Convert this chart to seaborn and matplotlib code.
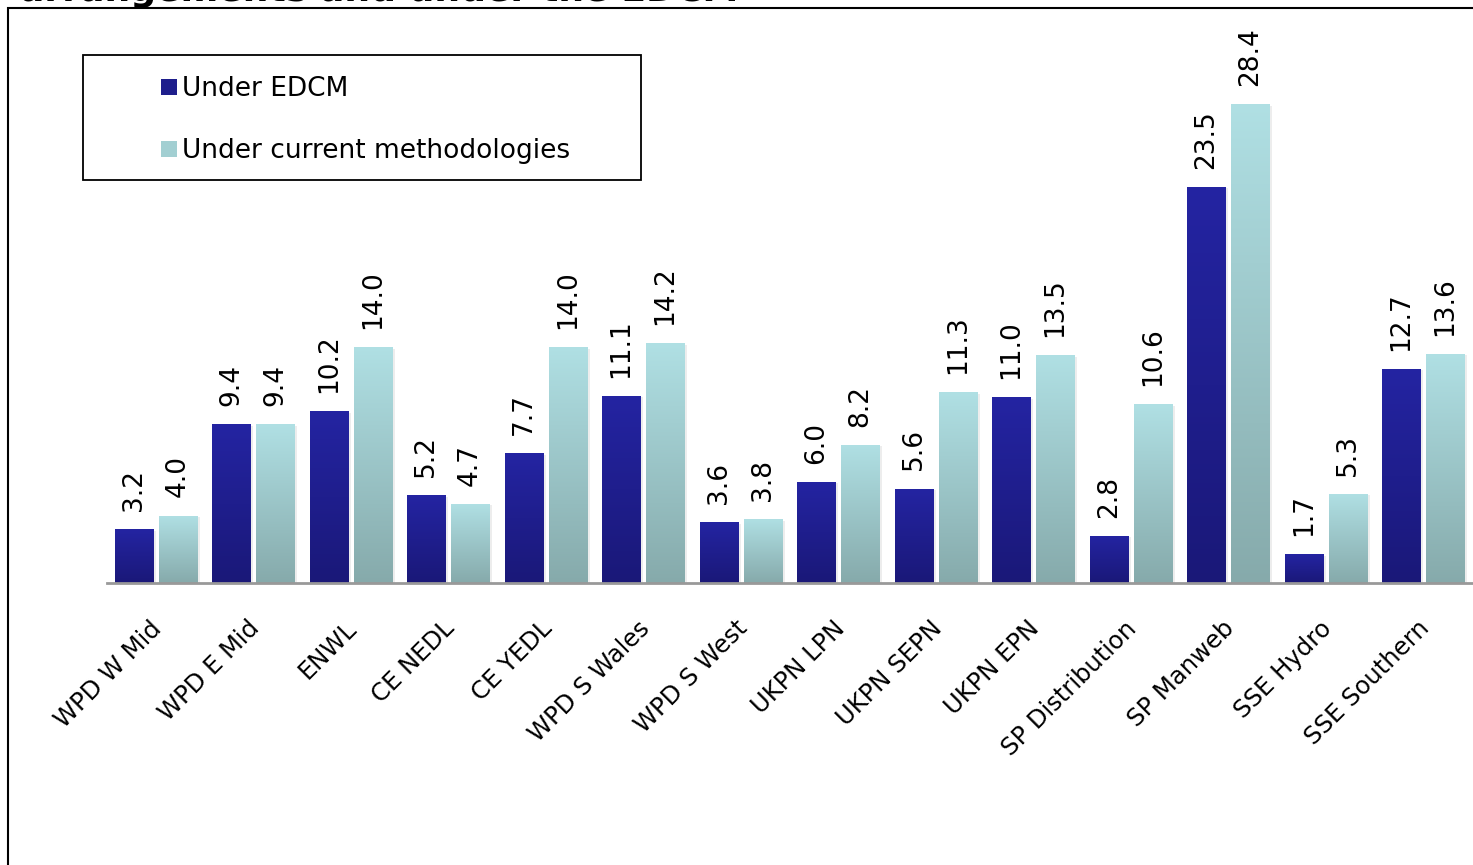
import numpy as np
import pandas as pd
import matplotlib
matplotlib.use("Agg")
import matplotlib.pyplot as plt
import matplotlib.transforms as mtransforms
from matplotlib.patches import Rectangle, Patch
from matplotlib.colors import LinearSegmentedColormap
import seaborn as sns

categories = ["WPD W Mid", "WPD E Mid", "ENWL", "CE NEDL", "CE YEDL", "WPD S Wales",
              "WPD S West", "UKPN LPN", "UKPN SEPN", "UKPN EPN", "SP Distribution",
              "SP Manweb", "SSE Hydro", "SSE Southern"]
edcm = [3.2, 9.4, 10.2, 5.2, 7.7, 11.1, 3.6, 6.0, 5.6, 11.0, 2.8, 23.5, 1.7, 12.7]
current = [4.0, 9.4, 14.0, 4.7, 14.0, 14.2, 3.8, 8.2, 11.3, 13.5, 10.6, 28.4, 5.3, 13.6]
series_names = ["Under EDCM", "Under current methodologies"]
title_text = "arrangements and under the EDCM"

df = pd.DataFrame({
    "DNO": categories * 2,
    "value": edcm + current,
    "series": [series_names[0]] * len(categories) + [series_names[1]] * len(categories),
})

sns.set_theme(style="white")
plt.rcParams["font.family"] = ["DejaVu Sans"]
plt.rcParams["text.color"] = "black"
plt.rcParams["xtick.color"] = "black"

W, H = 1473, 865
fig = plt.figure(figsize=(W / 100, H / 100), dpi=100)
ax = fig.add_axes([107 / W, (H - 583) / H, 1365 / W, 506 / H])

grad = {
    series_names[0]: ("#1a1878", "#2424a2"),
    series_names[1]: ("#86aaab", "#b0e0e4"),
}
sns.barplot(data=df, x="DNO", y="value", hue="series", order=categories,
            hue_order=series_names, width=0.9, gap=0.13, legend=False, ax=ax,
            palette={series_names[0]: "#1e1e8c", series_names[1]: "#9cc6c8"},
            linewidth=0, saturation=1)

bars = list(ax.patches)
n = len(categories)
for i, p in enumerate(bars):
    s = series_names[0] if i < n else series_names[1]
    c0, c1 = grad[s]
    cmap = LinearSegmentedColormap.from_list("g", [c0, c1])
    x0, y0 = p.get_x(), p.get_y()
    w, h = p.get_width(), p.get_height()
    if h <= 0:
        continue
    sh = Rectangle((x0 + 0.02, y0 - 0.25), w + 0.01, h + 0.15, facecolor="#000000",
                   alpha=0.07, linewidth=0, zorder=1.5)
    ax.add_patch(sh)
    g = np.linspace(0, 1, 256).reshape(-1, 1)
    im = ax.imshow(g, cmap=cmap, aspect="auto", origin="lower",
                   extent=[x0, x0 + w, y0, y0 + h], zorder=2.5)
    im.set_clip_path(p)
    p.set_facecolor("none")
    p.set_zorder(2.4)

ax.set_xlim(-0.5, len(categories) - 0.5)
ax.set_ylim(0, 30)

for i, p in enumerate(bars):
    v = edcm[i] if i < n else current[i - n]
    ax.annotate(f"{v:.1f}", (p.get_x() + p.get_width() / 2, p.get_height()),
                xytext=(0, 13), textcoords="offset points", rotation=90,
                ha="center", va="bottom", fontsize=19, color="black")

for sp in ["top", "right", "left"]:
    ax.spines[sp].set_visible(False)
ax.spines["bottom"].set_color("#999999")
ax.spines["bottom"].set_linewidth(2)
ax.spines["bottom"].set_zorder(3)
ax.set_yticks([])
ax.set_xlabel("")
ax.set_ylabel("")
ax.set_xticks(range(n))
ax.set_xticklabels(categories, rotation=45, ha="right", va="top",
                   rotation_mode="anchor", fontsize=17.5, color="black")
ax.tick_params(axis="x", length=0, pad=24)
offset = mtransforms.ScaledTranslation(-6 / 100, 0, fig.dpi_scale_trans)
for lab in ax.get_xticklabels():
    lab.set_transform(lab.get_transform() + offset)

handles = [Patch(facecolor="#1e1e8c", edgecolor="none"),
           Patch(facecolor="#a2cfd2", edgecolor="none")]
leg = fig.legend(handles, series_names, loc="upper left",
                 bbox_to_anchor=(148 / W, 1 - 63 / H), frameon=False,
                 fontsize=19, handlelength=0.58, handleheight=0.58,
                 handletextpad=0.22, labelspacing=1.36, borderpad=0)
for t in leg.get_texts():
    t.set_color("black")
fig.patches.append(Rectangle((83 / W, 1 - 180 / H), 558 / W, 125 / H,
                             transform=fig.transFigure, fill=False,
                             edgecolor="black", linewidth=1.3))

fig.patches.append(Rectangle((8 / W, -0.05), 1.1, 1.05 - 8 / H,
                             transform=fig.transFigure, fill=False,
                             edgecolor="black", linewidth=1.5))

fig.text(20 / W, 1 - 1 / H, title_text, fontsize=26, fontweight="bold",
         ha="left", va="baseline", color="black")

fig.savefig("out.png", dpi=100)
